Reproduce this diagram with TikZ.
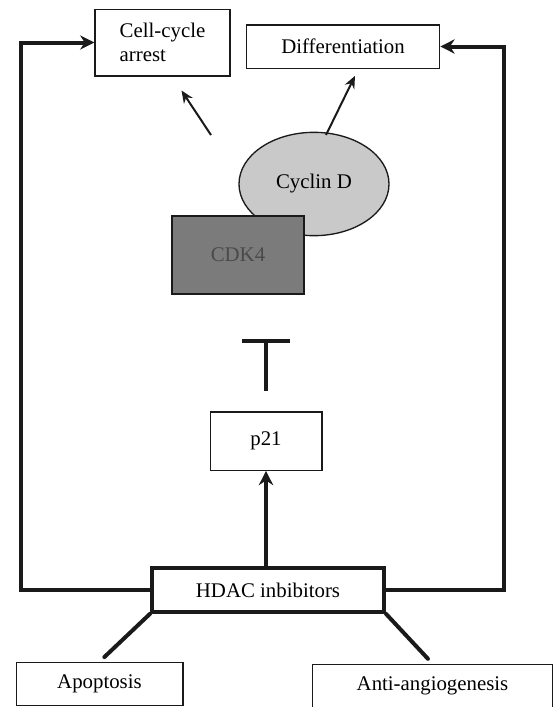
\documentclass[tikz,border=0pt]{standalone}
\usepackage{fontspec}
\setmainfont{Liberation Serif}
\usepackage{tikz}
\usetikzlibrary{arrows.meta,positioning,shapes.geometric}
\definecolor{ink}     {HTML}{1A1A1A}
\definecolor{cyclinbg}{HTML}{C9C9C9}
\definecolor{cdkbg}   {HTML}{7B7B7B}
\definecolor{cdktext} {HTML}{4A4A4A}
\tikzset{
  box/.style      ={draw=ink, fill=white, line width=0.8pt,
                    align=center, inner sep=3pt,
                    font=\fontsize{12.5}{14}\selectfont},
  hbox/.style     ={box, line width=2.4pt},
  cyc/.style      ={ellipse, draw=ink, fill=cyclinbg, line width=0.8pt,
                    inner sep=0pt, font=\fontsize{12.5}{14}\selectfont},
  cdk/.style      ={box, fill=cdkbg, text=cdktext, line width=1.2pt},
  arr/.style      ={-{Stealth[length=2.6mm,width=2.2mm]}, line width=1.2pt, color=ink},
  fbarr/.style    ={-{Stealth[length=3mm,width=3mm]}, line width=2.4pt, color=ink},
  inh/.style      ={-{Bar[width=10mm]}, line width=2.4pt, color=ink},
  thk/.style      ={line width=2.4pt, color=ink, line cap=round},
}

\begin{document}
\begin{tikzpicture}[x=0.6pt,y=-0.6pt]
  \useasboundingbox (0,0) rectangle (556,707);

  % outcome boxes at the top
  \node[box,minimum width=81pt,minimum height=40pt,align=left] (arrest) at (162.5,42.5)
    {Cell-cycle\\arrest};
  \node[box,minimum width=116pt,minimum height=26pt] (diff) at (343,46.5) {Differentiation};

  % cyclin D / CDK4 complex
  \node[cyc,minimum width=90pt,minimum height=62pt] (cycd) at (314,184) {Cyclin D};
  \node[cdk,minimum width=79pt,minimum height=47pt] (cdk4) at (238,255) {CDK4};

  \node[box,minimum width=67pt,minimum height=35pt] (p21) at (266,441) {p21};
  \node[hbox,minimum width=139pt,minimum height=26pt] (hdac) at (268,590) {HDAC inbibitors};

  \node[box,minimum width=100pt,minimum height=26pt] (apop) at (99.5,684) {Apoptosis};
  \node[box,minimum width=144pt,minimum height=26pt] (anti) at (432.5,686) {Anti-angiogenesis};

  % complex -> outcomes
  \coordinate (c1) at (211,135);
  \coordinate (c2) at (326,135);
  \draw[arr] (c1) -- ([xshift=11.4pt,yshift=-8.4pt]arrest.south);
  \draw[arr] (c2) -- ([xshift=7.2pt,yshift=-4.2pt]diff.south);

  % p21 inhibits CDK4
  \draw[inh,shorten <=12pt,shorten >=26pt] (p21.north) -- (p21.north |- cdk4.south);
  \draw[fbarr] (hdac.north -| p21) -- (p21.south);

  % feedback lines to the outcomes
  \coordinate (lc) at (21,0);
  \coordinate (rc) at (504,0);
  \draw[fbarr] (hdac.west) -- (hdac.west -| lc) |- (arrest.west);
  \draw[fbarr] (hdac.east) -- (hdac.east -| rc) |- (diff.east);

  % lower outcomes
  \draw[thk,shorten >=4pt] (hdac.south west) -- (apop.north);
  \draw[thk,shorten >=4pt] (hdac.south east) -- (anti.north);
\end{tikzpicture}
\end{document}
